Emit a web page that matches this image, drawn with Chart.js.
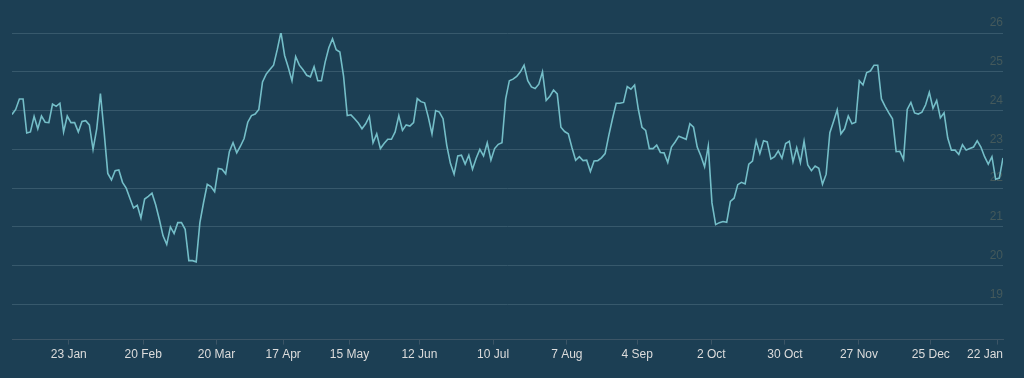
<!DOCTYPE html>
<html>
<head>
<meta charset="utf-8">
<script src="https://cdn.jsdelivr.net/npm/chart.js@4/dist/chart.umd.min.js"></script>
<style>
  html, body { margin: 0; padding: 0; background: #1c3f54; }
  #wrap { width: 1024px; height: 378px; position: relative; }
</style>
</head>
<body>
<div id="wrap"><canvas id="c" width="1024" height="378"></canvas></div>
<script>
// Daily values (trading-day index 0..269)
const values = [
  23.90, 24.03, 24.30, 24.30, 23.42, 23.45, 23.85, 23.53, 23.86, 23.70,
  23.69, 24.17, 24.11, 24.19, 23.45, 23.86, 23.69, 23.69, 23.45, 23.72,
  23.74, 23.63, 23.00, 23.53, 24.44, 23.45, 22.38, 22.21, 22.45, 22.47,
  22.15, 22.00, 21.74, 21.49, 21.56, 21.23, 21.72, 21.79, 21.87, 21.57,
  21.19, 20.77, 20.55, 21.00, 20.83, 21.11, 21.11, 20.94, 20.13, 20.13,
  20.10, 21.11, 21.63, 22.10, 22.04, 21.91, 22.51, 22.49, 22.37, 22.94,
  23.17, 22.91, 23.08, 23.28, 23.70, 23.87, 23.91, 24.03, 24.74, 24.94,
  25.06, 25.17, 25.57, 26.02, 25.42, 25.11, 24.77, 25.39, 25.17, 25.05,
  24.91, 24.87, 25.13, 24.77, 24.77, 25.25, 25.62, 25.85, 25.57, 25.51,
  24.89, 23.87, 23.89, 23.79, 23.68, 23.53, 23.66, 23.85, 23.17, 23.40,
  23.02, 23.15, 23.26, 23.26, 23.45, 23.87, 23.49, 23.63, 23.60, 23.69,
  24.31, 24.23, 24.20, 23.83, 23.40, 24.00, 23.96, 23.79, 23.11, 22.64,
  22.36, 22.83, 22.85, 22.62, 22.85, 22.49, 22.77, 23.00, 22.83, 23.17,
  22.72, 23.02, 23.13, 23.17, 24.30, 24.77, 24.81, 24.88, 25.00, 25.17,
  24.77, 24.61, 24.57, 24.68, 25.00, 24.26, 24.37, 24.53, 24.43, 23.57,
  23.46, 23.40, 23.04, 22.72, 22.81, 22.71, 22.72, 22.43, 22.70, 22.71,
  22.78, 22.89, 23.36, 23.79, 24.19, 24.19, 24.21, 24.62, 24.55, 24.66,
  24.04, 23.57, 23.49, 23.02, 23.02, 23.11, 22.92, 22.91, 22.66, 23.06,
  23.19, 23.34, 23.30, 23.26, 23.66, 23.57, 23.06, 22.83, 22.55, 23.09,
  21.62, 21.06, 21.11, 21.14, 21.12, 21.66, 21.74, 22.09, 22.15, 22.11,
  22.62, 22.70, 23.22, 22.89, 23.22, 23.19, 22.75, 22.81, 22.96, 22.77,
  23.15, 23.21, 22.68, 23.04, 22.66, 23.21, 22.60, 22.45, 22.57, 22.51,
  22.10, 22.36, 23.43, 23.72, 24.02, 23.40, 23.53, 23.86, 23.66, 23.70,
  24.77, 24.66, 24.98, 25.02, 25.17, 25.17, 24.30, 24.11, 23.94, 23.79,
  22.94, 22.95, 22.74, 24.03, 24.21, 23.94, 23.91, 23.96, 24.15, 24.47,
  24.06, 24.26, 23.81, 23.94, 23.29, 22.98, 22.98, 22.87, 23.12, 22.98,
  23.02, 23.06, 23.22, 23.06, 22.81, 22.62, 22.81, 22.23, 22.26, 22.78
];

// X-axis tick positions (in trading-day index units) and their labels
const xTickIndex = [15.4, 35.6, 55.5, 73.6, 91.6, 110.6, 130.6, 150.6, 169.7, 189.8, 209.8, 229.9, 249.4, 267.5];
const xTickLabels = ['23 Jan', '20 Feb', '20 Mar', '17 Apr', '15 May', '12 Jun', '10 Jul', '7 Aug', '4 Sep', '2 Oct', '30 Oct', '27 Nov', '25 Dec', '22 Jan'];

// Y-axis ticks
const yTicks = [19, 20, 21, 22, 23, 24, 25, 26];
const yMin = 18.095;
const yMax = 26;

const points = values.map((v, i) => ({ x: i, y: v }));

Chart.defaults.font.family = '"Liberation Sans", Arial, sans-serif';
Chart.defaults.font.size = 12;

// Keep the last x label inside the plot's right edge (justify)
const justifyLastLabel = {
  id: 'justifyLastLabel',
  beforeDraw(chart) {
    const sx = chart.scales.x;
    const items = sx.getLabelItems(chart.chartArea);
    if (!items.length) return;
    const last = items[items.length - 1];
    const ctx = chart.ctx;
    ctx.save();
    ctx.font = '12px "Liberation Sans", Arial, sans-serif';
    const w = ctx.measureText(String(last.label)).width;
    ctx.restore();
    const cx = last.options.translation[0];
    if (cx + w / 2 > chart.chartArea.right) {
      last.options.translation[0] = chart.chartArea.right;
      last.options.textAlign = 'right';
    }
  }
};

new Chart(document.getElementById('c'), {
  type: 'line',
  data: {
    datasets: [{
      data: points,
      borderColor: '#74bec8',
      borderWidth: 1.6,
      pointRadius: 0,
      tension: 0,
      fill: false
    }]
  },
  options: {
    responsive: false,
    animation: false,
    layout: { padding: { left: 12, right: 21, top: 33, bottom: 13 } },
    plugins: { legend: { display: false }, tooltip: { enabled: false } },
    scales: {
      x: {
        type: 'linear',
        min: 0,
        max: values.length - 1,
        afterBuildTicks: (axis) => { axis.ticks = xTickIndex.map(v => ({ value: v })); },
        grid: { drawOnChartArea: false, drawTicks: true, tickLength: 5, color: '#3c5566' },
        border: { display: true, color: '#3c5566', width: 1 },
        ticks: {
          autoSkip: false,
          maxRotation: 0,
          padding: 3,
          color: '#dcdcdc',
          callback: (value, index) => xTickLabels[index]
        }
      },
      y: {
        position: 'right',
        min: yMin,
        max: yMax,
        afterBuildTicks: (axis) => { axis.ticks = yTicks.map(v => ({ value: v })); },
        grid: { color: '#37596c', drawTicks: false, lineWidth: 1 },
        border: { display: false },
        ticks: {
          mirror: true,
          padding: 0,
          labelOffset: -10,
          color: '#44595b',
          callback: (v) => String(v)
        }
      }
    }
  },
  plugins: [justifyLastLabel]
});
</script>
</body>
</html>
